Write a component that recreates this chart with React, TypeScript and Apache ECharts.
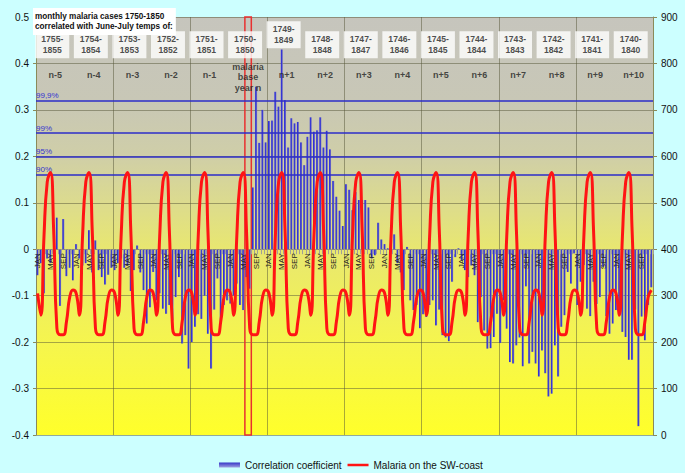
import { useEffect, useRef } from 'react';
import * as echarts from 'echarts';

const FONT = '"Liberation Sans", Arial, Helvetica, sans-serif';

const monthLabels = ['JAN', 'FEB', 'MAR', 'APR', 'MAY', 'JUN', 'JUL', 'AUG', 'SEP', 'OCT', 'NOV', 'DEC'];

const yearOffsets = ['n-5', 'n-4', 'n-3', 'n-2', 'n-1', 'malaria\nbase\nyear n', 'n+1', 'n+2', 'n+3', 'n+4', 'n+5', 'n+6', 'n+7', 'n+8', 'n+9', 'n+10'];

const tempPeriods = ['1755-\n1855', '1754-\n1854', '1753-\n1853', '1752-\n1852', '1751-\n1851', '1750-\n1850', '1749-\n1849', '1748-\n1848', '1747-\n1847', '1746-\n1846', '1745-\n1845', '1744-\n1844', '1743-\n1843', '1742-\n1842', '1741-\n1841', '1740-\n1840'];

// monthly malaria cases on the SW-coast (same seasonal curve shown in every column)
const malariaMonthly = [305, 258, 430, 545, 565, 440, 230, 216, 216, 245, 297, 312];

// correlation coefficient, one value per month, 16 columns of 12 months
const correlation = [
  -0.056, -0.03, -0.095, -0.02, -0.03, -0.01, 0.068, -0.122, 0.065, -0.058, -0.04, -0.067,
  0.011, -0.02, -0.035, -0.03, 0.041, -0.05, 0.019, -0.045, -0.06, -0.076, -0.055, -0.04,
  -0.045, -0.03, -0.02, -0.04, -0.035, -0.09, -0.045, 0.008, -0.05, -0.088, -0.16, -0.125,
  -0.049, -0.11, -0.095, -0.128, -0.139, -0.12, -0.153, -0.103, -0.06, -0.203, -0.185, -0.257,
  -0.2, -0.167, -0.14, -0.15, -0.1, -0.182, -0.257, -0.13, -0.063, -0.157, -0.12, -0.11,
  -0.117, -0.1, -0.074, -0.12, -0.131, -0.06, -0.085, 0.133, 0.35, 0.229, 0.3, 0.23,
  0.276, 0.277, 0.339, 0.307, 0.43, 0.321, 0.219, 0.282, 0.271, 0.274, 0.23, 0.181,
  0.242, 0.284, 0.253, 0.256, 0.284, 0.219, 0.255, 0.215, 0.147, 0.113, 0.083, 0.05,
  0.14, 0.128, 0.084, 0.123, 0.106, 0.106, 0.106, 0.09, -0.02, -0.013, 0.057, 0.021,
  0.011, 0.002, -0.005, 0.032, -0.03, -0.05, -0.088, 0.005, -0.11, -0.131, -0.12, -0.17,
  -0.14, -0.146, -0.12, -0.11, -0.164, -0.13, -0.185, -0.19, -0.198, -0.07, -0.017, 0.002,
  -0.024, -0.045, -0.06, -0.035, -0.056, -0.157, -0.103, -0.175, -0.214, -0.213, -0.189, -0.139,
  -0.202, -0.11, -0.171, -0.243, -0.246, -0.207, -0.19, -0.252, -0.08, -0.246, -0.221, -0.246,
  -0.274, -0.218, -0.267, -0.317, -0.311, -0.207, -0.274, -0.167, -0.142, -0.049, -0.074, -0.009,
  -0.12, -0.07, -0.034, -0.128, -0.144, -0.07, -0.118, -0.103, -0.038, -0.144, -0.182, -0.16,
  -0.131, -0.142, -0.178, -0.189, -0.238, -0.238, -0.13, -0.381, -0.145, -0.196, -0.12, -0.082,
];

const sigLabels = ['99,9%', '99%', '95%', '90%'];
const sigValues = [0.321, 0.252, 0.196, 0.164];

// June-July of the base year (month index range)
const baseMonths = [65, 67];

const leftMin = -0.4;
const leftMax = 0.5;

const titleText = 'monthly malaria cases 1750-1850\ncorrelated with June-July temps of:';

export default function App() {
  const ref = useRef<HTMLDivElement>(null);

  useEffect(() => {
    document.body.style.margin = '0';
    document.body.style.background = '#ccffff';
    if (!ref.current) return;
    const chart = echarts.init(ref.current, undefined, { renderer: 'svg' });

    const categories = tempPeriods.flatMap((_, y) => monthLabels.map((m) => `${m}|${y}`));
    const malaria = tempPeriods.flatMap(() => malariaMonthly);

    const bgGrad = new echarts.graphic.LinearGradient(0, 0, 0, 1, [
      { offset: 0, color: '#c6c5bd' },
      { offset: 0.2, color: '#c8c7b6' },
      { offset: 0.33, color: '#cfcea8' },
      { offset: 0.444, color: '#dcdb8e' },
      { offset: 0.555, color: '#e8e770' },
      { offset: 0.777, color: '#f5f54e' },
      { offset: 1, color: '#ffff2a' },
    ]);

    const barGrad = new echarts.graphic.LinearGradient(0, 0, 1, 0, [
      { offset: 0, color: '#2222dd' },
      { offset: 0.55, color: '#4040d0' },
      { offset: 1, color: '#8888b8' },
    ]);
    const legendGrad = new echarts.graphic.LinearGradient(0, 0, 0, 1, [
      { offset: 0, color: '#3535c8' },
      { offset: 1, color: '#a0a0e0' },
    ]);

    const gridColor = 'rgba(85,85,55,0.5)';

    chart.setOption({
      animation: false,
      textStyle: { fontFamily: FONT },
      grid: {
        left: 36,
        right: 32,
        top: 17,
        bottom: 38,
        show: true,
        backgroundColor: bgGrad,
        borderWidth: 0,
      },
      legend: {
        left: 214,
        top: 455,
        itemGap: 6,
        itemWidth: 21,
        itemHeight: 5,
        selectedMode: false,
        textStyle: { fontSize: 10, color: '#111', fontFamily: FONT },
        data: [
          { name: 'Correlation coefficient', icon: 'rect', itemStyle: { color: legendGrad } },
          {
            name: 'Malaria on the SW-coast',
            icon: 'path://M0,0 L22,0 M0,1.3 L22,1.3 L22,3.7 L0,3.7 Z M0,5 L22,5',
            itemStyle: { color: '#ff1414', borderWidth: 0 },
          },
        ],
      },
      graphic: [
        {
          type: 'text',
          left: 33,
          top: 8,
          z: 10,
          style: {
            text: titleText,
            fill: '#111',
            font: `bold 8.2px ${FONT}`,
            backgroundColor: '#ffffff',
            padding: [3, 3, 3, 2],
            lineHeight: 10.5,
          },
        },
      ],
      xAxis: [
        {
          type: 'category',
          data: categories,
          position: 'bottom',
          boundaryGap: true,
          z: 3,
          axisLine: { onZero: false, lineStyle: { color: '#8a8a7a', width: 1 } },
          axisTick: { show: true, interval: 0, length: 5, lineStyle: { color: '#a0a098' } },
          axisLabel: {
            interval: 3,
            rotate: 90,
            fontSize: 8,
            color: '#222',
            margin: 4,
            fontFamily: FONT,
            formatter: (v: string) => v.split('|')[0],
          },
          splitLine: { show: false },
        },
        {
          type: 'category',
          data: yearOffsets,
          position: 'top',
          boundaryGap: true,
          axisLine: { show: false },
          axisTick: { show: false },
          axisLabel: { show: false },
          splitLine: { show: true, lineStyle: { color: gridColor, width: 1 } },
        },
        {
          type: 'value',
          min: 0,
          max: 192,
          show: false,
        },
      ],
      yAxis: [
        {
          type: 'value',
          min: leftMin,
          max: leftMax,
          interval: 0.1,
          position: 'left',
          axisLine: { show: true, lineStyle: { color: '#8a8a5a' } },
          axisTick: { show: true, length: 3, lineStyle: { color: '#8a8a5a' } },
          axisLabel: { fontSize: 10, color: '#111', margin: 7, fontFamily: FONT },
          splitLine: { show: true, lineStyle: { color: gridColor, width: 1 } },
        },
        {
          type: 'value',
          min: 0,
          max: 900,
          interval: 100,
          position: 'right',
          axisLine: { show: true, lineStyle: { color: '#8a8a5a' } },
          axisTick: { show: true, length: 4, lineStyle: { color: '#8a8a5a' } },
          axisLabel: { fontSize: 10, color: '#111', margin: 8, fontFamily: FONT },
          splitLine: { show: false },
        },
      ],
      series: [
        {
          name: 'Correlation coefficient',
          type: 'bar',
          xAxisIndex: 0,
          yAxisIndex: 0,
          data: correlation,
          barWidth: 2,
          itemStyle: { color: barGrad },
          z: 2,
          markLine: {
            silent: true,
            symbol: ['none', 'none'],
            lineStyle: { color: '#2c2cc8', width: 1.5, type: 'solid' },
            label: {
              position: 'insideStartTop',
              formatter: (p: any) => p.name,
              color: '#3434d0',
              fontSize: 8,
              distance: [0, 1],
              fontFamily: FONT,
            },
            emphasis: { disabled: true },
            data: sigValues.map((v, i) => ({ name: sigLabels[i], yAxis: v })),
          },
        },
        {
          name: 'Malaria on the SW-coast',
          type: 'line',
          xAxisIndex: 0,
          yAxisIndex: 1,
          data: malaria,
          smooth: 0.5,
          symbol: 'none',
          lineStyle: { color: '#ff1414', width: 3 },
          itemStyle: { color: '#ff1414' },
          z: 5,
        },
        {
          type: 'line',
          xAxisIndex: 2,
          yAxisIndex: 0,
          data: [],
          silent: true,
          z: 6,
          markArea: {
            silent: true,
            itemStyle: { color: 'rgba(0,0,0,0)', borderColor: '#e83030', borderWidth: 1.5 },
            data: [[{ coord: [baseMonths[0], leftMin] }, { coord: [baseMonths[1], leftMax] }]],
          },
        },
        {
          type: 'scatter',
          xAxisIndex: 1,
          yAxisIndex: 0,
          symbolSize: 1,
          silent: true,
          itemStyle: { color: 'rgba(0,0,0,0)' },
          z: 7,
          data: tempPeriods.map((_, i) => [i, i === 6 ? 0.462 : 0.44]),
          label: {
            show: true,
            position: 'inside',
            offset: [-3, 0],
            formatter: (p: any) => tempPeriods[p.dataIndex],
            backgroundColor: '#ffffff',
            padding: [3, 6, 2, 6],
            fontSize: 8.6,
            fontWeight: 'bold',
            lineHeight: 11,
            color: '#222',
            fontFamily: FONT,
          },
        },
        {
          type: 'scatter',
          xAxisIndex: 1,
          yAxisIndex: 0,
          symbolSize: 1,
          silent: true,
          itemStyle: { color: 'rgba(0,0,0,0)' },
          z: 7,
          data: yearOffsets.map((_, i) => [i, i === 5 ? 0.37 : 0.375]),
          label: {
            show: true,
            position: 'inside',
            formatter: (p: any) => yearOffsets[p.dataIndex],
            fontSize: 9,
            fontWeight: 'bold',
            lineHeight: 10.5,
            color: '#222',
            fontFamily: FONT,
          },
        },
      ],
    });

    // place the month axis on the zero line of the left axis
    const yZero = chart.convertToPixel({ yAxisIndex: 0 }, 0) as number;
    const yBottom = chart.convertToPixel({ yAxisIndex: 0 }, leftMin) as number;
    chart.setOption({ xAxis: [{ offset: -(yBottom - yZero) }] });

    return () => chart.dispose();
  }, []);

  return <div ref={ref} style={{ width: 685, height: 473, background: '#ccffff' }} />;
}
